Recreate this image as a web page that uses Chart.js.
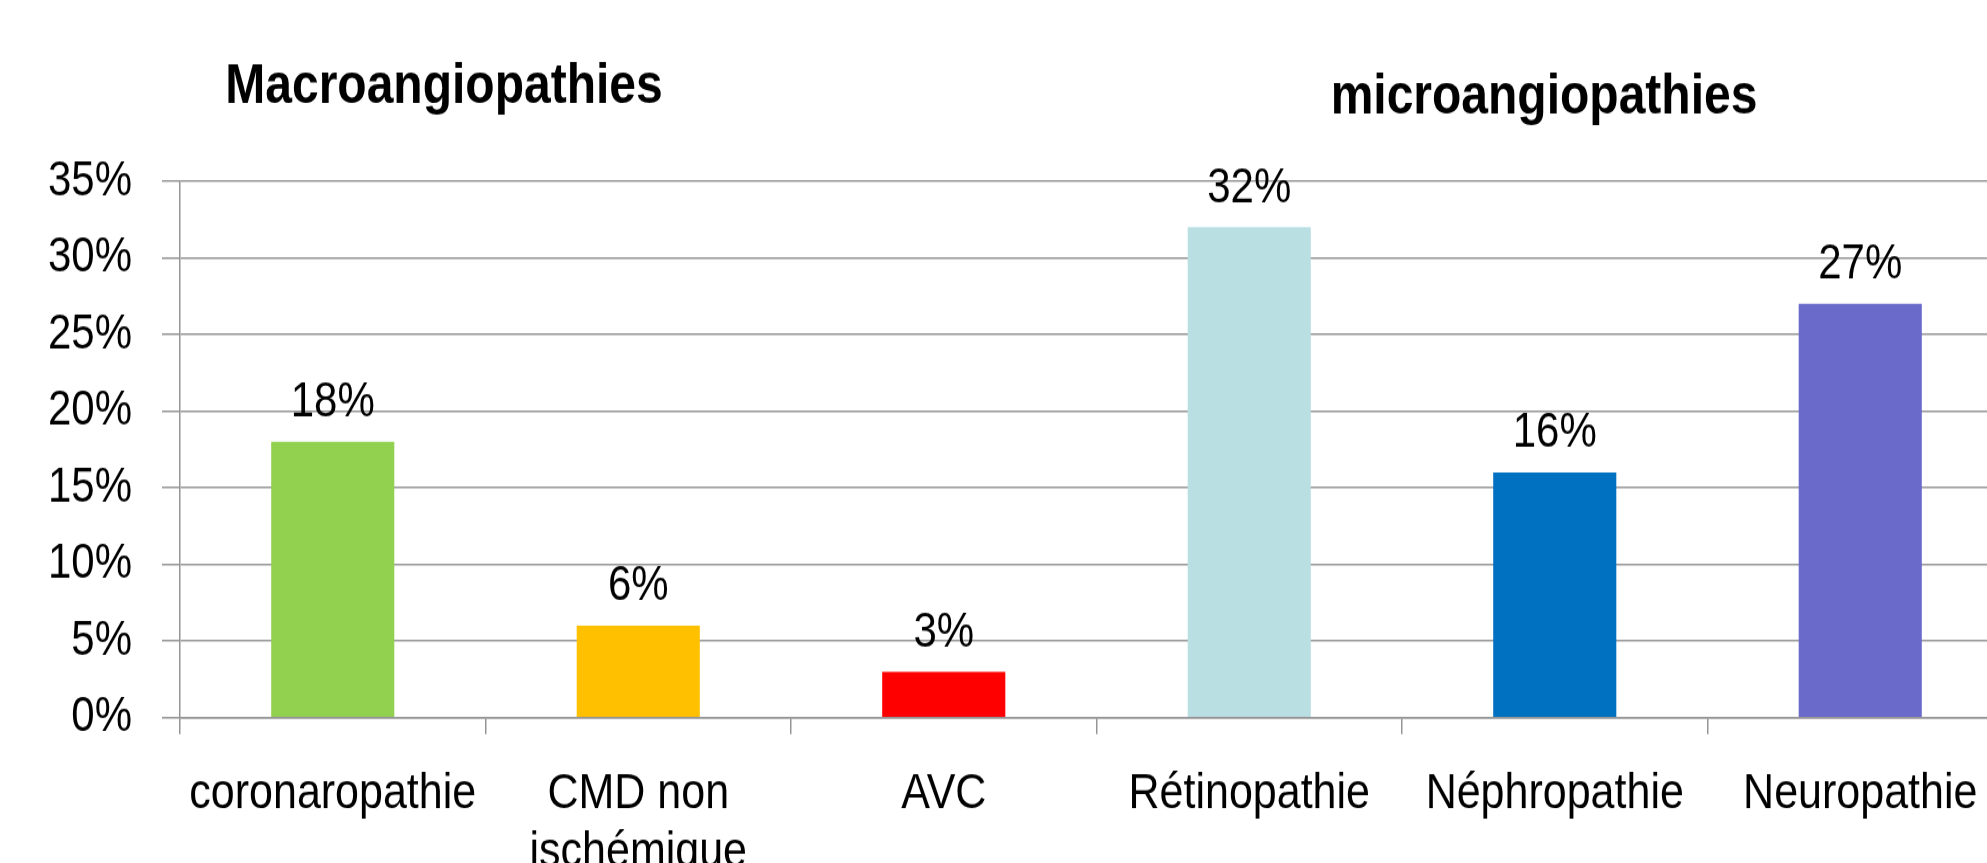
<!DOCTYPE html>
<html lang="fr">
  <head>
    <meta charset="UTF-8" />
    <title>Macro et microangiopathies</title>
    <style>
      * {
        margin: 0;
        padding: 0;
      }
      html, body {
        width: 1987px;
        height: 863px;
        overflow: hidden;
        background: #fff;
      }
      /* the source image is stretched vertically, so the chart is too */
      .chartBox {
        width: 2013px;
        height: 738px;
        transform: scaleY(1.1694);
        transform-origin: 0 0;
      }
    </style>
  </head>
  <body>
    <div class="chartBox">
      <canvas id="myChart" width="2013" height="738"></canvas>
    </div>

    <script src="https://cdn.jsdelivr.net/npm/chart.js"></script>

    <script>
      // data block
      const categories = [
        "coronaropathie",
        ["CMD non", "ischémique"],
        "AVC",
        "Rétinopathie",
        "Néphropathie",
        "Neuropathie"
      ];
      const values = [18, 6, 3, 32, 16, 27];
      const barColors = ["#92D050", "#FFC000", "#FF0000", "#B9DFE3", "#0070C0", "#6A6ACB"];
      const groupTitles = ["Macroangiopathies", "microangiopathies"];

      const gridColor = "#959595";
      Chart.defaults.font.family = "'Liberation Sans', Arial, sans-serif";
      Chart.defaults.color = "#000";

      // value labels above each bar
      const valueLabels = {
        id: "valueLabels",
        afterDatasetsDraw(chart) {
          const { ctx } = chart;
          const meta = chart.getDatasetMeta(0);
          ctx.save();
          ctx.font = "42px 'Liberation Sans', Arial, sans-serif";
          ctx.fillStyle = "#000";
          ctx.textAlign = "center";
          ctx.textBaseline = "alphabetic";
          meta.data.forEach((bar, i) => {
            ctx.fillText(values[i] + "%", bar.x, bar.y - 21.6);
          });
          ctx.restore();
        }
      };

      // the two group headings
      const groupHeadings = {
        id: "groupHeadings",
        afterDraw(chart) {
          const { ctx } = chart;
          ctx.save();
          ctx.font = "bold 48px 'Liberation Sans', Arial, sans-serif";
          ctx.fillStyle = "#000";
          ctx.textAlign = "center";
          ctx.fillText(groupTitles[0], 444, 88);
          ctx.fillText(groupTitles[1], 1544, 96.6);
          ctx.restore();
        }
      };

      // config block
      const config = {
        type: "bar",
        data: {
          labels: categories,
          datasets: [
            {
              data: values,
              backgroundColor: barColors,
              borderWidth: 0,
              categoryPercentage: 1,
              barPercentage: 0.403
            }
          ]
        },
        options: {
          responsive: false,
          animation: false,
          layout: {
            padding: { top: 155, left: 0, right: 0, bottom: 0 }
          },
          plugins: {
            legend: { display: false },
            tooltip: { enabled: false }
          },
          scales: {
            x: {
              grid: {
                offset: true,
                drawOnChartArea: false,
                drawTicks: true,
                tickLength: 14,
                color: gridColor,
                lineWidth: 1.5
              },
              border: { color: gridColor, width: 1.5 },
              ticks: {
                padding: 27,
                maxRotation: 0,
                autoSkip: false,
                font: { size: 43, lineHeight: 1.15 }
              },
              afterFit(scale) {
                scale.height = 124.3;
              }
            },
            y: {
              min: 0,
              max: 35,
              grid: {
                color: gridColor,
                lineWidth: 1.5,
                tickLength: 18
              },
              border: { color: gridColor, width: 1.5 },
              ticks: {
                stepSize: 5,
                padding: 30,
                font: { size: 42 },
                callback: (v) => v + "%"
              },
              afterFit(scale) {
                scale.width = 180;
              }
            }
          }
        },
        plugins: [valueLabels, groupHeadings]
      };

      // init render block
      const myChart = new Chart(document.getElementById("myChart"), config);
    </script>
  </body>
</html>
